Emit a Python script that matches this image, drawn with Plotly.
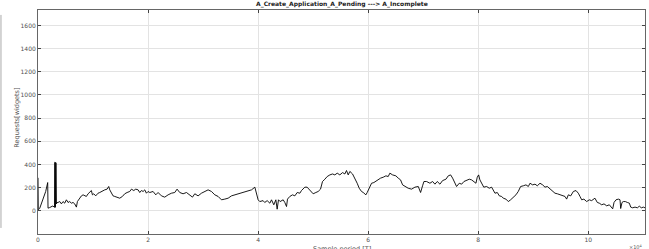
import plotly.graph_objects as go

# x in units of 1e4 samples, y in requests
x_vals = [
    0.000, 0.002, 0.003, 0.005, 0.030, 0.061, 0.104, 0.140, 0.176, 0.182,
    0.210, 0.240, 0.270, 0.300, 0.303, 0.307, 0.312, 0.316, 0.320, 0.325,
    0.330, 0.335, 0.340, 0.364, 0.395, 0.425, 0.455, 0.485, 0.516, 0.546,
    0.576, 0.607, 0.637, 0.667, 0.698, 0.716, 0.758, 0.789, 0.819, 0.849,
    0.879, 0.910, 0.940, 0.970, 0.989, 1.013, 1.049, 1.091, 1.122, 1.152,
    1.182, 1.213, 1.255, 1.285, 1.304, 1.334, 1.364, 1.395, 1.437, 1.485,
    1.534, 1.576, 1.619, 1.667, 1.698, 1.740, 1.776, 1.819, 1.849, 1.879,
    1.910, 1.940, 1.970, 2.000, 2.031, 2.091, 2.140, 2.182, 2.243, 2.303,
    2.364, 2.425, 2.485, 2.527, 2.576, 2.636, 2.698, 2.758, 2.807, 2.849,
    2.909, 2.970, 3.031, 3.091, 3.152, 3.213, 3.273, 3.334, 3.394, 3.455,
    3.516, 3.576, 3.636, 3.698, 3.758, 3.818, 3.880, 3.940, 3.970, 4.000,
    4.030, 4.090, 4.120, 4.164, 4.213, 4.243, 4.285, 4.322, 4.346, 4.370,
    4.400, 4.455, 4.485, 4.516, 4.534, 4.576, 4.625, 4.667, 4.710, 4.758,
    4.788, 4.819, 4.849, 4.890, 4.928, 4.970, 5.000, 5.049, 5.091, 5.134,
    5.170, 5.213, 5.255, 5.304, 5.352, 5.394, 5.437, 5.485, 5.534, 5.576,
    5.606, 5.637, 5.667, 5.716, 5.758, 5.800, 5.837, 5.879, 5.910, 5.958,
    5.982, 6.018, 6.061, 6.103, 6.152, 6.182, 6.225, 6.273, 6.322, 6.364,
    6.394, 6.443, 6.503, 6.546, 6.588, 6.625, 6.667, 6.727, 6.788, 6.849,
    6.910, 6.952, 6.988, 7.013, 7.061, 7.122, 7.170, 7.213, 7.255, 7.304,
    7.352, 7.413, 7.455, 7.498, 7.534, 7.576, 7.606, 7.655, 7.698, 7.740,
    7.788, 7.837, 7.879, 7.920, 7.958, 7.982, 8.007, 8.030, 8.060, 8.100,
    8.152, 8.200, 8.243, 8.273, 8.304, 8.346, 8.383, 8.425, 8.455, 8.503,
    8.546, 8.588, 8.637, 8.685, 8.727, 8.770, 8.819, 8.867, 8.910, 8.940,
    8.988, 9.031, 9.073, 9.122, 9.170, 9.213, 9.255, 9.304, 9.352, 9.394,
    9.437, 9.485, 9.534, 9.576, 9.606, 9.637, 9.680, 9.728, 9.776, 9.818,
    9.849, 9.880, 9.920, 9.970, 10.018, 10.060, 10.120, 10.164, 10.200, 10.243,
    10.285, 10.334, 10.382, 10.425, 10.443, 10.467, 10.503, 10.546, 10.576, 10.588,
    10.612, 10.637, 10.673, 10.710, 10.746, 10.770, 10.806, 10.849, 10.891, 10.927,
    10.964, 11.000, 11.030,
]

y_vals = [
    285, 130, 280, 10, 20, 66, 109, 167, 244, 23,
    28, 32, 42, 30, 418, 40, 415, 30, 418, 50,
    412, 60, 70, 72, 80, 60, 80, 66, 95, 72,
    80, 66, 72, 60, 32, 80, 109, 129, 138, 129,
    124, 147, 158, 175, 138, 147, 129, 152, 158, 167,
    175, 181, 187, 210, 181, 152, 129, 124, 118, 109,
    124, 147, 158, 167, 187, 175, 187, 181, 158, 175,
    167, 181, 152, 167, 158, 167, 138, 158, 129, 118,
    138, 152, 158, 187, 158, 147, 158, 138, 118, 147,
    129, 152, 167, 181, 167, 138, 124, 95, 101, 109,
    129, 138, 147, 158, 167, 175, 181, 204, 152, 95,
    80, 88, 72, 88, 66, 95, 52, 95, 14, 95,
    80, 95, 72, 37, 101, 124, 138, 129, 158, 152,
    175, 195, 204, 204, 181, 158, 147, 158, 167, 187,
    253, 273, 296, 310, 318, 310, 325, 310, 330, 318,
    348, 310, 340, 318, 282, 238, 195, 167, 158, 138,
    158, 195, 238, 244, 261, 273, 282, 290, 302, 296,
    325, 310, 302, 282, 267, 224, 210, 195, 187, 204,
    210, 158, 216, 253, 253, 238, 253, 230, 253, 230,
    261, 273, 302, 310, 282, 238, 210, 238, 230, 253,
    261, 273, 267, 253, 238, 290, 310, 267, 238, 204,
    210, 195, 204, 181, 152, 158, 129, 124, 109, 101,
    80, 95, 118, 138, 167, 210, 216, 224, 210, 238,
    224, 230, 216, 238, 224, 204, 210, 187, 167, 152,
    147, 138, 129, 124, 101, 138, 129, 167, 175, 152,
    124, 95, 101, 80, 95, 88, 109, 72, 66, 52,
    60, 43, 52, 32, 17, 72, 95, 101, 95, 20,
    72, 80, 80, 72, 66, 32, 26, 32, 26, 40,
    26, 32, 26,
]

x_ticks = [0, 2, 4, 6, 8, 10]
y_ticks = [0, 200, 400, 600, 800, 1000, 1200, 1400, 1600]

title_text = "A_Create_Application_A_Pending ---> A_Incomplete"
x_title = "Sample period [T]"
y_title = "Requests[widgets]"

FONT = "DejaVu Sans"

fig = go.Figure()
fig.add_trace(go.Scatter(
    x=x_vals, y=y_vals, mode="lines",
    line=dict(color="#000000", width=0.9),
    showlegend=False, hoverinfo="skip",
))

axis_common = dict(
    showgrid=True, gridcolor="#e3e3e3", gridwidth=1,
    showline=True, linecolor="#666666", linewidth=1, mirror="ticks",
    ticks="inside", ticklen=3, tickcolor="#444444", tickwidth=1,
    tickfont=dict(family=FONT, size=6, color="#505050"),
    zeroline=False, automargin=False,
)

fig.update_layout(
    width=649, height=249,
    margin=dict(l=38, r=4, t=10, b=15, autoexpand=False),
    paper_bgcolor="white", plot_bgcolor="white",
    font=dict(family=FONT),
    hovermode=False,
    xaxis=dict(range=[0, 11.03], tickvals=x_ticks,
               ticktext=[str(t) for t in x_ticks], **axis_common),
    yaxis=dict(range=[-200, 1733], tickvals=y_ticks,
               ticktext=[str(t) for t in y_ticks], **axis_common),
    annotations=[
        dict(text="<b>" + title_text + "</b>", xref="paper", yref="paper",
             x=0.5, y=1.0, xanchor="center", yanchor="bottom", yshift=0,
             showarrow=False, font=dict(family=FONT, size=6, color="#222222")),
        dict(text=y_title, xref="paper", yref="paper", x=-0.036, y=0.52,
             xanchor="center", yanchor="middle", textangle=-90,
             showarrow=False, font=dict(family=FONT, size=6.5, color="#555555")),
        dict(text=x_title, xref="paper", yref="paper", x=0.5, y=-0.038,
             xanchor="center", yanchor="top", showarrow=False,
             font=dict(family=FONT, size=6.5, color="#555555")),
        dict(text="\u00d710<sup>4</sup>", xref="paper", yref="paper", x=1.0, y=-0.035,
             xanchor="right", yanchor="top", showarrow=False,
             font=dict(family=FONT, size=5, color="#555555")),
    ],
    shapes=[
        dict(type="line", xref="paper", yref="paper",
             x0=-0.061, x1=-0.061, y0=0.027, y1=0.978,
             line=dict(color="#aaaaaa", width=1)),
    ],
)

fig.write_html(
    "out.html",
    config={"displayModeBar": False, "staticPlot": True},
    post_script="document.body.style.margin='0';document.body.style.padding='0';document.body.style.overflow='hidden';",
)
